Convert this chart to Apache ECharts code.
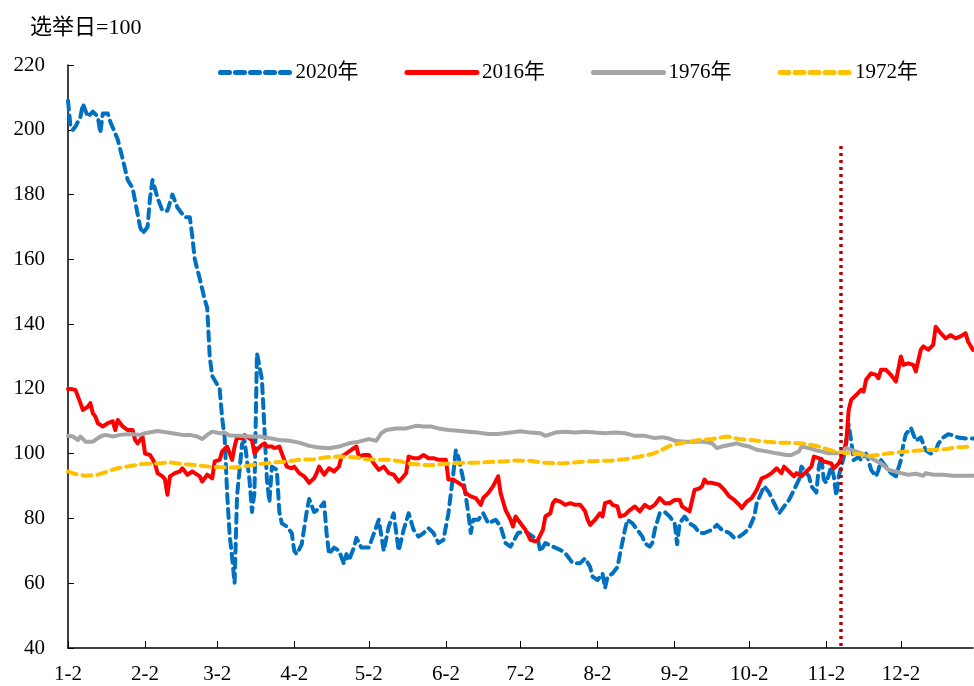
<!DOCTYPE html>
<html>
<head>
<meta charset="utf-8">
<script src="https://cdn.jsdelivr.net/npm/echarts@6/dist/echarts.min.js"></script>
<style>
  html, body { margin: 0; padding: 0; background: #fff; }
  #main { width: 974px; height: 686px; }
</style>
</head>
<body>
<div id="main"></div>
<script>
// x categories: every calendar day from 1-2 to 12-31 (leap year)
const monthLen = [31, 29, 31, 30, 31, 30, 31, 31, 30, 31, 30, 31];
const days = [];
for (let m = 0; m < 12; m++) {
  for (let d = 1; d <= monthLen[m]; d++) {
    if (m === 0 && d === 1) continue;
    days.push((m + 1) + '-' + d);
  }
}

const yTicks = [40, 220, 20];            // min, max, step
const electionDay = '11-8';
const electionTop = 195;

// [index into days, value]
const s2020 = [
  [0,209],[1,201],[2,200],[3,201],[5,204],[6,208],[8,204],[10,205.6],[12,204],[13,199],[14,205],[16,205],
  [17,202.5],[20,197],[22,191],[24,184.5],[26,182],[27,178],[29,170],[30,168],[32,170],[33,179],[34,184.5],
  [36,179],[38,175],[40,175],[42,180],[44,176],[47,173],[49,173],[50,167],[51,160],[53,154],[55,147.5],
  [56,145],[57,130],[58,124],[61,120],[62,111],[63,105],[64,88],[65,75],[66,68],[67,60],[68,87],[69,95],
  [70,103],[71,104],[73,92],[74,82],[75,88],[76,131],[78,123],[79,108],[80,92],[81,85],[82,96],[84,95],
  [85,82],[86,78.5],[88,77.5],[90,75.5],[91,70],[92,69],[94,72],[96,82],[97,86],[99,82],[101,83],[103,85],
  [104,75.5],[105,69],[107,71],[109,70],[111,66],[112,69],[113,67],[115,71],[116,74],[118,71],[120,71],
  [121,71],[125,79.6],[127,70],[129,77.5],[131,81.6],[133,70],[135,76.5],[137,81.6],[139,76.5],[141,74.4],
  [143,75.5],[145,77],[147,75.5],[149,72.4],[151,73.4],[153,81.6],[155,94],[156,101],[157,99],[159,92],
  [161,81.6],[162,75.5],[163,79.6],[165,79.6],[167,81.6],[169,78.5],[172,79.6],[174,77.5],[176,72.4],
  [178,71.3],[181,75.5],[184,76],[187,74.4],[189,73.4],[190,69.8],[192,72.4],[195,71.3],[198,70.3],
  [200,69.3],[203,66.2],[206,66.2],[208,67.7],[210,65],[211,62],[213,61],[215,63],[216,58.5],[217,62],
  [219,63],[221,65],[222,69],[224,76.5],[225,79.6],[227,78.5],[229,76.5],[231,74.4],[232,72.4],[234,71.3],
  [235,72.4],[236,76.5],[238,81.6],[240,82],[242,80.6],[244,78.5],[245,72],[246,78.5],[248,80.6],[250,78.5],
  [252,77.5],[254,75.5],[256,75.5],[259,76.5],[261,78],[263,76.5],[266,75.5],[268,74],[270,74.4],[272,75.5],
  [274,77],[276,80.6],[277,84.7],[280,90],[282,88],[284,84.7],[286,81.6],[288,83.7],[290,85.7],[292,88.8],
  [294,92],[295,96],[297,94],[298,93],[299,90],[301,88],[302,96],[303,99],[304,92],[305,91],[307,96],
  [308,93],[309,87],[310,93],[312,99],[314,109],[315,104],[316,98],[318,99],[319,98],[321,100],[322,98],
  [323,95],[325,93],[326,95],[327,98],[329,96],[331,94],[333,93],[335,98],[336,103],[337,106],[339,108],
  [340,106],[341,104],[343,105],[345,101],[347,100],[349,101],[350,103],[352,105],[354,106],[356,105.7],
  [358,105],[361,104.7],[364,104.7]
];

const s2016 = [
  [0,120],[1,120],[3,119.7],[5,115.6],[6,113.5],[8,114.5],[9,115.6],[10,112.5],[11,111.5],[12,109.4],
  [14,108.4],[16,109.4],[18,110],[19,107.3],[20,110.4],[22,108.4],[24,107.3],[26,107.3],[27,104.2],
  [28,103.2],[30,105.2],[31,100],[33,99.6],[35,97],[36,94],[38,93],[39,92],[40,87.3],[41,93],[43,94],
  [45,94.5],[46,95.5],[48,93.5],[50,94.5],[51,94],[53,93],[54,91.4],[56,93.5],[58,92.4],[59,97.6],[61,98.1],
  [62,100.7],[64,102.2],[66,98.1],[67,102.2],[68,105],[70,104.7],[71,105.7],[72,105.2],[74,104.2],[75,100.1],
  [76,101.2],[78,102.7],[79,103.2],[80,102.2],[82,102.2],[83,101.7],[85,102.2],[86,100.1],[88,96],[90,95.5],
  [91,96],[93,94],[95,93],[97,91],[99,92.4],[100,94],[101,96],[103,93.5],[105,95.5],[107,94.5],[109,96],
  [110,99.1],[112,100.1],[114,101.2],[116,102.2],[117,99.1],[119,99.6],[121,99.6],[123,97],[125,95],[127,96],
  [129,94],[131,93.5],[133,91.4],[135,93],[136,94],[137,99.1],[139,98.6],[141,98.6],[143,99.6],[145,98.6],
  [147,98.6],[149,98.1],[152,98.1],[153,92],[155,92],[157,91],[159,90],[160,87.8],[162,86.8],[164,86.3],
  [166,84.2],[167,86.3],[169,87.8],[171,90],[173,93],[174,87.8],[176,82.6],[178,79.6],[179,77.5],[180,80.6],
  [182,78.5],[184,76.5],[186,73.4],[188,72.9],[189,73.4],[191,76.5],[192,80.6],[194,81.6],[195,84.7],
  [196,85.7],[198,85.2],[200,84.2],[202,84.7],[204,84.2],[206,84.2],[208,82.2],[209,79.6],[210,78],
  [212,79.6],[214,81.6],[215,80.6],[216,84.7],[218,85.2],[219,84.2],[221,83.7],[222,80.6],[224,81.1],
  [226,82.6],[228,83.7],[230,82.2],[232,84.2],[234,83.2],[236,84.2],[238,86.3],[240,84.7],[242,84.7],
  [244,85.7],[246,85.7],[247,83.7],[250,82.2],[252,88.8],[254,89.3],[255,89.9],[256,92],[257,91],[259,91],
  [262,90.4],[264,88.8],[266,86.8],[268,85.7],[270,84.2],[271,83.2],[273,85.2],[275,86.3],[277,88.8],
  [279,92.4],[281,93],[283,94],[285,95.5],[287,94],[288,96],[290,94.5],[292,93],[293,94],[295,93],
  [297,94.5],[299,96],[300,99.1],[302,98.6],[304,97.6],[307,97],[308,95.5],[310,97],[311,98.6],[313,103.2],
  [314,113.5],[315,116.6],[317,118.1],[319,119.7],[320,119.2],[321,122.8],[323,124.8],[325,124.3],
  [326,123.3],[327,125.9],[329,125.9],[331,124.3],[333,122.3],[335,130],[336,127.4],[338,127.9],[340,127.4],
  [341,125.4],[343,132.1],[344,133.1],[346,132.1],[348,133.6],[349,139.2],[351,137.2],[353,135.6],
  [355,136.6],[357,135.6],[359,136.2],[361,137.2],[362,134.6],[364,132]
];

const s1976 = [
  [0,105.5],[2,105.3],[4,104.2],[5,105.3],[7,103.7],[10,103.7],[13,105.3],[15,105.8],[18,105.3],[21,105.8],
  [25,106.1],[29,105.8],[31,106.3],[36,107],[38,106.8],[42,106.3],[46,105.8],[49,105.8],[52,105.3],
  [54,104.5],[56,105.8],[58,106.8],[61,106.3],[63,106.5],[65,105.6],[69,105.5],[73,105.3],[77,105.3],
  [81,104.8],[85,104.2],[89,104],[93,103.4],[97,102.4],[101,101.9],[105,101.7],[109,102.2],[113,103.2],
  [117,103.7],[121,104.5],[124,104],[126,106.3],[128,107.3],[132,107.8],[136,107.8],[140,108.6],[143,108.4],
  [146,108.4],[149,107.8],[153,107.3],[157,107.1],[161,106.8],[165,106.5],[169,106.1],[173,106.1],
  [178,106.5],[182,106.9],[186,106.5],[190,106.3],[192,105.5],[196,106.5],[200,106.8],[204,106.5],
  [208,106.8],[212,106.5],[216,106.3],[220,106.5],[224,106.3],[228,105.5],[232,105.5],[236,104.8],
  [239,105.1],[242,104.6],[244,104],[248,103.7],[252,103.7],[256,103.7],[259,103.2],[261,101.7],[263,102.2],
  [266,102.7],[269,103.2],[271,102.7],[274,102.2],[277,101.2],[281,100.7],[285,100.1],[289,99.6],[291,99.6],
  [294,100.7],[295,102.2],[298,101.7],[301,101],[303,100.7],[306,100.1],[310,100.1],[313,101.7],[315,101.2],
  [319,100.1],[323,98.6],[327,97],[330,95],[333,94.5],[335,94],[338,93.5],[341,93.8],[344,93.2],[345,94],
  [348,93.5],[352,93.5],[356,93.2],[360,93.2],[364,93.2]
];

const s1972 = [
  [0,94.5],[3,93.7],[7,93.2],[12,93.5],[16,94.5],[20,95.5],[25,96.2],[30,96.8],[36,97],[41,97.3],[46,96.8],
  [52,96.4],[57,96],[62,95.8],[67,95.7],[72,96.2],[77,96.8],[83,97.3],[88,97.6],[93,98.1],[99,98.3],
  [104,98.9],[109,99.1],[115,98.9],[120,98.3],[125,98.1],[130,98.1],[134,97.6],[137,97],[143,96.5],
  [148,96.5],[153,97],[159,97.2],[164,97.2],[169,97.4],[175,97.6],[180,97.9],[186,97.8],[191,97.2],[198,97],
  [203,97.2],[208,97.6],[214,97.8],[219,97.9],[224,98.3],[230,99.1],[235,99.9],[239,101.2],[242,102.4],
  [246,103.2],[250,103.7],[254,104.2],[259,104.5],[265,105.3],[270,104.5],[275,104.2],[281,103.7],
  [286,103.4],[291,103.4],[297,103],[302,102.2],[306,101.2],[310,100.4],[314,100.1],[318,99.9],[322,99.3],
  [326,99.6],[330,100.1],[334,100.4],[338,100.7],[342,101],[348,101.2],[353,101.4],[358,102],[364,102.2]
];

const serif = '"Liberation Serif", "Times New Roman", "Noto Sans CJK SC", serif';
const isMonthStart = (i, v) => v.split('-')[1] === '2';

function lineSeries(name, data, color, type) {
  return {
    name: name,
    type: 'line',
    data: data,
    showSymbol: false,
    symbol: 'none',
    lineStyle: { color: color, width: 4, type: type, cap: 'round', join: 'round' },
    itemStyle: { color: color }
  };
}

const chart = echarts.init(document.getElementById('main'));
const series = [
  lineSeries('2020年', s2020, '#0070C0', [9, 6]),
  lineSeries('2016年', s2016, '#FF0000', 'solid'),
  lineSeries('1976年', s1976, '#A5A5A5', 'solid'),
  lineSeries('1972年', s1972, '#FFC000', [9, 6])
];
series[1].markLine = {
  symbol: 'none',
  silent: true,
  label: { show: false },
  lineStyle: { color: '#C00000', width: 3.5, type: [3, 4] },
  data: [[{ coord: [electionDay, electionTop] }, { coord: [electionDay, yTicks[0]] }]]
};

chart.setOption({
  animation: false,
  backgroundColor: '#fff',
  title: {
    text: '选举日=100',
    left: 25,
    top: 12,
    textStyle: { fontFamily: serif, fontSize: 22, fontWeight: 'normal', color: '#000' }
  },
  legend: {
    data: ['2020年', '2016年', '1976年', '1972年'],
    left: 213,
    top: 57,
    itemWidth: 70,
    itemHeight: 14,
    itemGap: 46,
    itemStyle: { opacity: 0 },
    lineStyle: { width: 5 },
    textStyle: { fontFamily: serif, fontSize: 21, color: '#000' }
  },
  grid: { left: 68, right: 1, top: 65, bottom: 38, containLabel: false },
  xAxis: {
    type: 'category',
    data: days,
    boundaryGap: false,
    axisLine: { lineStyle: { color: '#000', width: 1.5 } },
    axisTick: { inside: true, length: 7, interval: isMonthStart, lineStyle: { color: '#000' } },
    axisLabel: { interval: isMonthStart, margin: 16, fontFamily: serif, fontSize: 21, color: '#000' },
    splitLine: { show: false }
  },
  yAxis: {
    type: 'value',
    min: yTicks[0],
    max: yTicks[1],
    interval: yTicks[2],
    axisLine: { show: true, lineStyle: { color: '#000', width: 1.5 } },
    axisTick: { show: true, inside: true, length: 6, lineStyle: { color: '#000' } },
    axisLabel: { margin: 23, fontFamily: serif, fontSize: 21, color: '#000' },
    splitLine: { show: false }
  },
  series: series
});
</script>
</body>
</html>
